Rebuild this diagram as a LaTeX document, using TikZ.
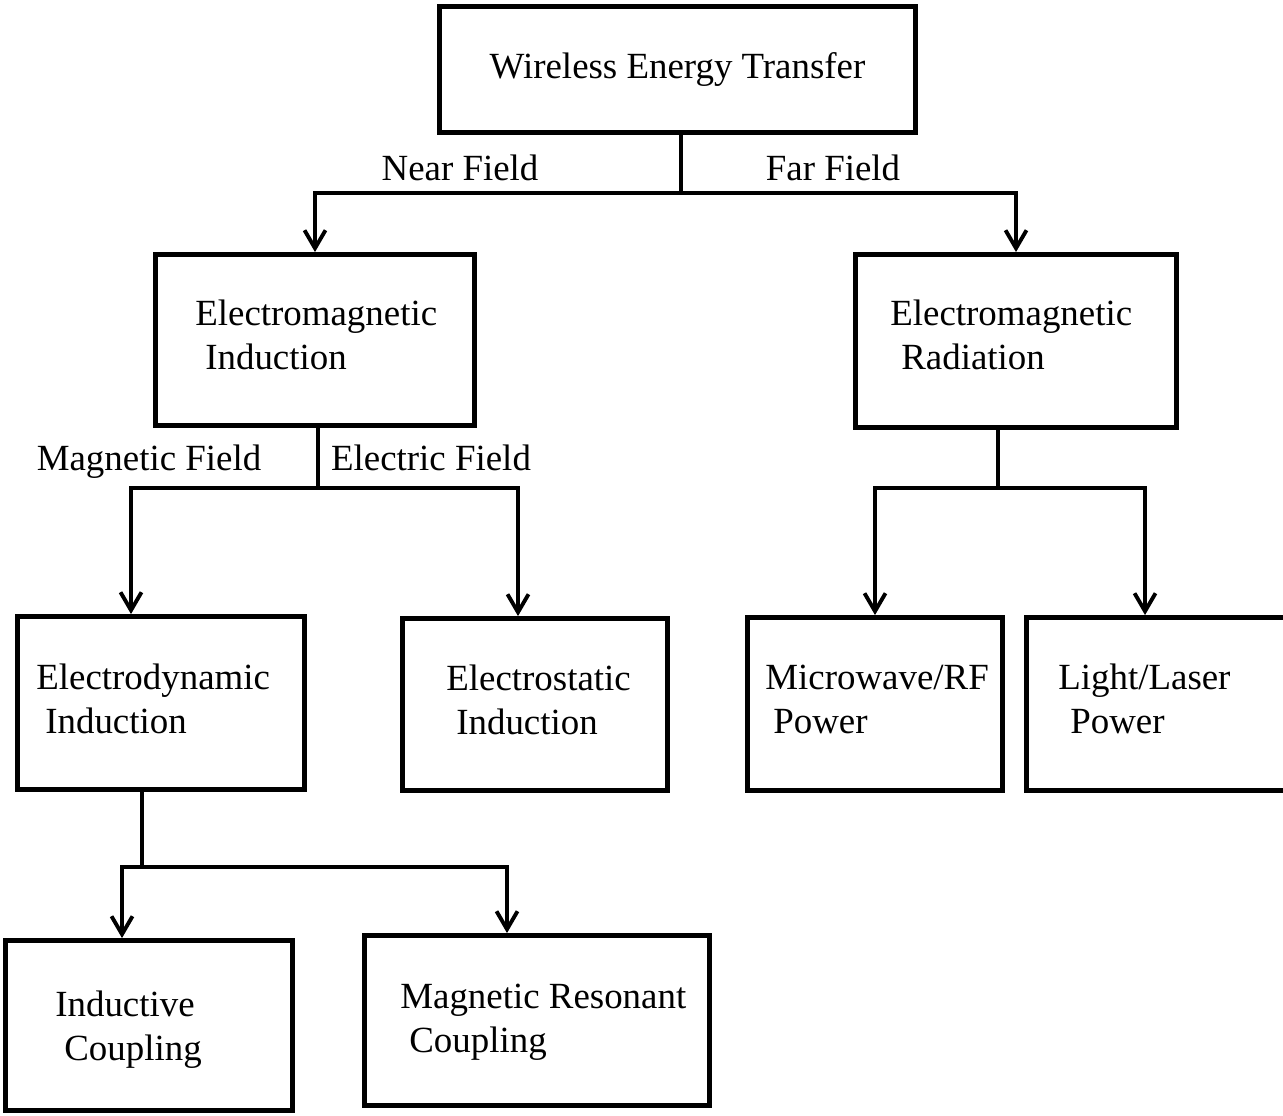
\documentclass[tikz,border=0pt]{standalone}
\usepackage{fontspec}
\setmainfont{Liberation Serif}
\usetikzlibrary{arrows.meta}

\begin{document}
\begin{tikzpicture}[x=0.02cm,y=-0.02cm,
	box/.style={draw,line width=2.8pt,inner sep=0pt},
	txt/.style={align=left,anchor=west,inner sep=0pt},
	lbl/.style={anchor=base,inner sep=0pt},
	arr/.style={-{Straight Barb[length=0.36cm,width=0.42cm]},line width=2.2pt},
	lin/.style={line width=2.2pt},
	font=\fontsize{21}{25}\selectfont]
	\useasboundingbox (0,0) rectangle (1283,1115);

	\node[box,minimum width=9.52cm,minimum height=2.52cm] (wet) at (677.5,69.5) {Wireless Energy Transfer};

	\node[box,minimum width=6.38cm,minimum height=3.42cm] (emi) at (315,340) {};
	\node[txt] (emitxt) at (195,335) {Electromagnetic\\\hspace{.2cm}Induction};
	\node[box,minimum width=6.42cm,minimum height=3.46cm] (emr) at (1016,341) {};
	\node[txt] (emrtxt) at (890,335) {Electromagnetic\\\hspace{.22cm}Radiation};

	\node[box,minimum width=5.74cm,minimum height=3.46cm] (edi) at (161,703) {};
	\node[txt] (editxt) at (36,699) {Electrodynamic\\\hspace{.18cm}Induction};
	\node[box,minimum width=5.3cm,minimum height=3.44cm] (esi) at (535,704.5) {};
	\node[txt] (esitxt) at (446,700) {Electrostatic\\\hspace{.2cm}Induction};
	\node[box,minimum width=5.1cm,minimum height=3.46cm] (mrf) at (875,704) {};
	\node[txt] (mrftxt) at (765,699) {Microwave/RF\\\hspace{.16cm}Power};
	\node[box,minimum width=5.2cm,minimum height=3.46cm] (lls) at (1156,704) {};
	\node[txt] (llstxt) at (1058,699) {Light/Laser\\\hspace{.24cm}Power};

	\node[box,minimum width=5.74cm,minimum height=3.4cm] (ind) at (149,1025.5) {};
	\node[txt] (indtxt) at (55,1030) {Inductive\\\hspace{.18cm}Coupling};
	\node[box,minimum width=6.9cm,minimum height=3.4cm] (mrc) at (537,1020.5) {};
	\node[txt] (mrctxt) at (400,1022) {Magnetic Resonant\\\hspace{.18cm}Coupling};

	% near / far field
	\draw[lin] ([xshift=0.07cm]wet.south) -- ++(0,58) coordinate (wetj);
	\draw[arr] (wetj) -| (emi.north);
	\draw[arr] (wetj) -| (emr.north);
	\node[lbl] (nflbl) at (460,180) {Near Field};
	\node[lbl] (fflbl) at (833,180) {Far Field};

	% induction branches
	\draw[lin] ([xshift=0.06cm]emi.south) -- ++(0,60) coordinate (emij);
	\draw[arr] (emij) -| ([xshift=-0.6cm]edi.north);
	\draw[arr] (emij) -| ([xshift=-0.34cm]esi.north);
	\node[lbl] (mflbl) at (149,470) {Magnetic Field};
	\node[lbl] (eflbl) at (431,470) {Electric Field};

	% radiation branches
	\draw[lin] ([xshift=-0.36cm]emr.south) -- ++(0,58) coordinate (emrj);
	\draw[arr] (emrj) -| (mrf.north);
	\draw[arr] (emrj) -| ([xshift=-0.22cm]lls.north);

	% coupling branches
	\draw[lin] ([xshift=-0.38cm]edi.south) -- ++(0,75) coordinate (edij);
	\draw[arr] (edij) -| ([xshift=-0.54cm]ind.north);
	\draw[arr] (edij) -| ([xshift=-0.6cm]mrc.north);
\end{tikzpicture}
\end{document}
